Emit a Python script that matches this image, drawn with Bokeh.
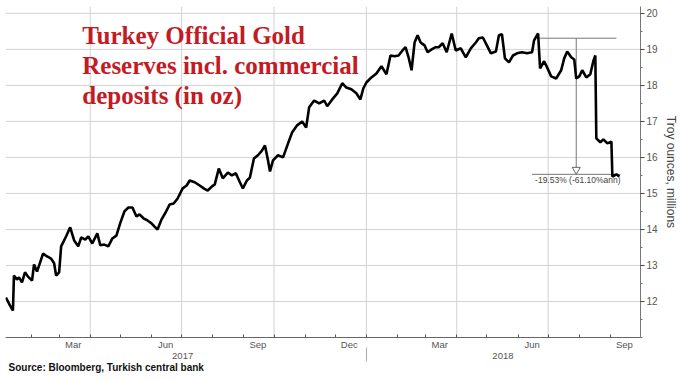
import pandas as pd
from bokeh.plotting import figure
from bokeh.models import FixedTicker, DatetimeAxis, DatetimeTickFormatter, Label, Range1d, Title
from bokeh.core.properties import value
from bokeh.embed import file_html
from bokeh.resources import INLINE

# ---------------- data ----------------
dates = ["2017-01-07", "2017-01-11", "2017-01-14", "2017-01-15", "2017-01-18", "2017-01-20", "2017-01-23", "2017-01-26", "2017-01-29", "2017-02-02",
         "2017-02-04", "2017-02-07", "2017-02-10", "2017-02-13", "2017-02-17", "2017-02-21", "2017-02-24", "2017-02-26", "2017-03-01", "2017-03-03",
         "2017-03-08", "2017-03-12", "2017-03-16", "2017-03-20", "2017-03-23", "2017-03-27", "2017-03-30", "2017-04-03", "2017-04-08", "2017-04-11",
         "2017-04-15", "2017-04-19", "2017-04-23", "2017-04-27", "2017-05-01", "2017-05-05", "2017-05-09", "2017-05-13", "2017-05-17", "2017-05-20",
         "2017-05-24", "2017-05-28", "2017-06-01", "2017-06-04", "2017-06-07", "2017-06-11", "2017-06-15", "2017-06-19", "2017-06-23", "2017-06-27",
         "2017-07-02", "2017-07-06", "2017-07-09", "2017-07-14", "2017-07-19", "2017-07-23", "2017-07-27", "2017-07-31", "2017-08-03", "2017-08-07",
         "2017-08-11", "2017-08-16", "2017-08-20", "2017-08-24", "2017-08-28", "2017-08-31", "2017-09-04", "2017-09-07", "2017-09-11", "2017-09-15",
         "2017-09-19", "2017-09-22", "2017-09-25", "2017-09-27", "2017-09-30", "2017-10-05", "2017-10-10", "2017-10-15", "2017-10-19", "2017-10-24",
         "2017-10-29", "2017-11-02", "2017-11-05", "2017-11-10", "2017-11-15", "2017-11-20", "2017-11-23", "2017-11-28", "2017-12-03", "2017-12-08",
         "2017-12-12", "2017-12-17", "2017-12-22", "2017-12-26", "2017-12-29", "2018-01-01", "2018-01-06", "2018-01-11", "2018-01-16", "2018-01-21",
         "2018-01-25", "2018-01-29", "2018-02-02", "2018-02-06", "2018-02-09", "2018-02-12", "2018-02-15", "2018-02-18", "2018-02-21", "2018-02-24",
         "2018-02-28", "2018-03-03", "2018-03-07", "2018-03-11", "2018-03-14", "2018-03-18", "2018-03-22", "2018-03-27", "2018-03-31", "2018-04-05",
         "2018-04-10", "2018-04-15", "2018-04-20", "2018-04-23", "2018-04-27", "2018-05-01", "2018-05-05", "2018-05-10", "2018-05-13", "2018-05-16",
         "2018-05-19", "2018-05-23", "2018-05-27", "2018-05-31", "2018-06-05", "2018-06-10", "2018-06-15", "2018-06-17", "2018-06-21", "2018-06-23",
         "2018-06-27", "2018-06-30", "2018-07-04", "2018-07-09", "2018-07-14", "2018-07-17", "2018-07-20", "2018-07-24", "2018-07-27", "2018-07-29",
         "2018-08-01", "2018-08-04", "2018-08-08", "2018-08-12", "2018-08-15", "2018-08-17", "2018-08-18", "2018-08-22", "2018-08-25", "2018-08-29",
         "2018-09-02", "2018-09-03", "2018-09-07", "2018-09-10"]

reserves = [12.11, 11.89, 11.75, 12.72, 12.61, 12.67, 12.53, 12.81, 12.69, 12.58,
            13.03, 12.83, 13.08, 13.33, 13.25, 13.19, 13.06, 12.72, 12.81, 13.53,
            13.81, 14.06, 13.69, 13.53, 13.78, 13.72, 13.81, 13.61, 13.89, 13.56,
            13.58, 13.53, 13.75, 13.83, 14.19, 14.50, 14.61, 14.61, 14.36, 14.42,
            14.31, 14.25, 14.17, 14.08, 14.00, 14.28, 14.47, 14.69, 14.72, 14.86,
            15.14, 15.22, 15.36, 15.31, 15.22, 15.14, 15.08, 15.19, 15.25, 15.69,
            15.42, 15.58, 15.50, 15.56, 15.31, 15.14, 15.36, 15.44, 15.97, 16.06,
            16.19, 16.33, 15.92, 15.61, 15.92, 16.06, 16.00, 16.39, 16.69, 16.89,
            17.00, 16.83, 17.39, 17.58, 17.50, 17.58, 17.42, 17.61, 17.78, 18.06,
            17.94, 17.89, 17.78, 17.61, 17.92, 18.08, 18.22, 18.33, 18.53, 18.31,
            18.83, 18.81, 18.83, 18.97, 19.06, 18.78, 18.42, 19.19, 19.39, 19.19,
            19.11, 18.92, 19.00, 19.06, 19.06, 19.17, 18.92, 19.44, 18.97, 19.03,
            18.78, 19.03, 19.19, 19.31, 19.33, 19.11, 18.89, 18.94, 19.39, 19.42,
            18.75, 18.64, 18.83, 18.89, 18.92, 18.89, 18.92, 19.25, 19.44, 18.47,
            18.67, 18.50, 18.25, 18.19, 18.42, 18.75, 18.94, 18.78, 18.72, 18.19,
            18.25, 18.42, 18.22, 18.31, 18.67, 18.83, 16.53, 16.42, 16.50, 16.39,
            16.44, 15.47, 15.53, 15.47]

month_label_dates = ["2017-03-15", "2017-06-15", "2017-09-15", "2017-12-15",
                     "2018-03-15", "2018-06-15", "2018-09-15"]
month_start_dates = ["2017-02-01", "2017-03-01", "2017-04-01", "2017-05-01", "2017-06-01", "2017-07-01",
                     "2017-08-01", "2017-09-01", "2017-10-01", "2017-11-01", "2017-12-01", "2018-01-01",
                     "2018-02-01", "2018-03-01", "2018-04-01", "2018-05-01", "2018-06-01", "2018-07-01",
                     "2018-08-01", "2018-09-01", "2018-10-01"]
quarter_dates = ["2017-04-01", "2017-07-01", "2017-10-01", "2018-01-01", "2018-04-01", "2018-07-01"]
year_label_dates = ["2017-07-02", "2018-05-17"]
year_break_dates = ["2018-01-01"]
y_ticks = [12, 13, 14, 15, 16, 17, 18, 19, 20]
y_minor_ticks = [11.0, 11.5, 12.5, 13.5, 14.5, 15.5, 16.5, 17.5, 18.5, 19.5]

# Bloomberg difference annotation
ann_top_start, ann_top_end, ann_top_value = "2018-06-22", "2018-09-07", 19.31
ann_bot_start, ann_bot_end, ann_bot_value = "2018-06-15", "2018-09-11", 15.53
ann_arrow_date, ann_arrow_tip = "2018-07-29", 15.66
ann_text_date, ann_text_value = "2018-06-18", 15.50
ann_text = "-19.53% (-61.10%ann)"

title_lines = ["Turkey Official Gold", "Reserves incl. commercial", "deposits (in oz)"]
title_date = "2017-03-24"
title_values = [19.39, 18.556, 17.722]
source_text = "Source: Bloomberg, Turkish central bank"

x_start, x_end = "2017-01-06 14:00", "2018-10-01"
y_start, y_end = 11.0, 20.19


def ms(s):
    return pd.Timestamp(s).value // 10**6


# ---------------- figure ----------------
p = figure(width=680, height=379, x_axis_type="datetime", y_axis_location="right",
           output_backend="svg", toolbar_location=None,
           x_range=Range1d(ms(x_start), ms(x_end)),
           y_range=Range1d(y_start, y_end),
           min_border_left=5, min_border_top=6, min_border_right=38, min_border_bottom=42)
p.outline_line_color = None
p.xgrid.visible = False
p.ygrid.visible = False

grid_color = "#d2d2d2"
label_color = "#555555"
font = "Liberation Sans"

# light grid lines (quarter boundaries and whole millions), drawn under the series
p.segment(x0=[ms(d) for d in quarter_dates], x1=[ms(d) for d in quarter_dates],
          y0=[y_start] * len(quarter_dates), y1=[y_end] * len(quarter_dates),
          line_color=grid_color, line_width=1)
p.segment(x0=[ms(x_start)] * len(y_ticks), x1=[ms(x_end)] * len(y_ticks),
          y0=y_ticks, y1=y_ticks, line_color=grid_color, line_width=1)

# month axis
fmt_keys = ["microseconds", "milliseconds", "seconds", "minsec", "minutes",
            "hourmin", "hours", "days", "months", "years"]
xa = p.xaxis[0]
xa.ticker = FixedTicker(ticks=[ms(d) for d in month_label_dates],
                        minor_ticks=[ms(d) for d in month_start_dates])
xa.formatter = DatetimeTickFormatter(**{k: "%b" for k in fmt_keys})
xa.major_tick_in = 0
xa.major_tick_out = 0
xa.minor_tick_in = 3
xa.minor_tick_out = 0
xa.minor_tick_line_color = "#555555"
xa.axis_line_color = "#666666"
xa.major_label_standoff = 1
xa.major_label_text_font = font
xa.major_label_text_font_size = "9.5px"
xa.major_label_text_color = label_color

# year axis (labels)
year_axis = DatetimeAxis(ticker=FixedTicker(ticks=[ms(d) for d in year_label_dates]),
                         formatter=DatetimeTickFormatter(**{k: "%Y" for k in fmt_keys}))
year_axis.axis_line_color = None
year_axis.major_tick_in = 0
year_axis.major_tick_out = 0
year_axis.minor_tick_line_color = None
year_axis.major_label_standoff = 0
year_axis.major_label_text_font = font
year_axis.major_label_text_font_size = "9.5px"
year_axis.major_label_text_color = label_color
p.add_layout(year_axis, "below")

# year-break separator tick drawn upward
sep_axis = DatetimeAxis(ticker=FixedTicker(ticks=[], minor_ticks=[ms(d) for d in year_break_dates]))
sep_axis.axis_line_color = None
sep_axis.major_tick_line_color = None
sep_axis.major_tick_in = 0
sep_axis.major_tick_out = 0
sep_axis.minor_tick_in = 14
sep_axis.minor_tick_out = 0
sep_axis.minor_tick_line_color = "#aaaaaa"
sep_axis.major_label_standoff = 0
p.add_layout(sep_axis, "below")

# source line
p.add_layout(Title(text=source_text, align="left", text_font=font, text_font_style="bold",
                   text_font_size="10px", text_color="#111111", standoff=-3, offset=3), "below")

# y axis (right)
yax = p.yaxis[0]
yax.ticker = FixedTicker(ticks=y_ticks, minor_ticks=y_minor_ticks)
yax.major_tick_in = 0
yax.major_tick_out = 4
yax.minor_tick_in = 0
yax.minor_tick_out = 2
yax.axis_line_color = "#777777"
yax.major_tick_line_color = "#444444"
yax.minor_tick_line_color = "#777777"
yax.major_label_standoff = 2
yax.major_label_text_font = font
yax.major_label_text_font_size = "10px"
yax.major_label_text_color = label_color
yax.axis_label = "Troy ounces, millions"
yax.axis_label_text_font = font
yax.axis_label_text_font_style = "normal"
yax.axis_label_text_font_size = "12px"
yax.axis_label_text_color = "#444444"
yax.axis_label_standoff = 3

# annotation (drawn under the series line)
ann_color = "#777777"
p.segment(x0=[ms(ann_top_start), ms(ann_bot_start), ms(ann_arrow_date)],
          y0=[ann_top_value, ann_bot_value, ann_top_value],
          x1=[ms(ann_top_end), ms(ann_bot_end), ms(ann_arrow_date)],
          y1=[ann_top_value, ann_bot_value, ann_arrow_tip + 0.06],
          line_color=ann_color, line_width=1)
p.scatter(x=[ms(ann_arrow_date)], y=[ann_arrow_tip], marker="inverted_triangle", size=8,
          fill_color="white", line_color="#666666", line_width=1)
p.text(x=[ms(ann_text_date)], y=[ann_text_value], text=[ann_text],
       text_font=value(font), text_font_size="8.5px", text_color="#444444",
       text_baseline="top", text_align="left")

# series
p.line(x=[ms(d) for d in dates], y=reserves, line_color="black", line_width=2.6)

# title
for t, yv in zip(title_lines, title_values):
    p.add_layout(Label(x=ms(title_date), y=yv, text=t, text_font="Liberation Serif",
                       text_font_style="bold", text_font_size="25px",
                       text_color="#c41a24", text_baseline="alphabetic"))

open("out.html", "w").write(file_html(p, INLINE))
